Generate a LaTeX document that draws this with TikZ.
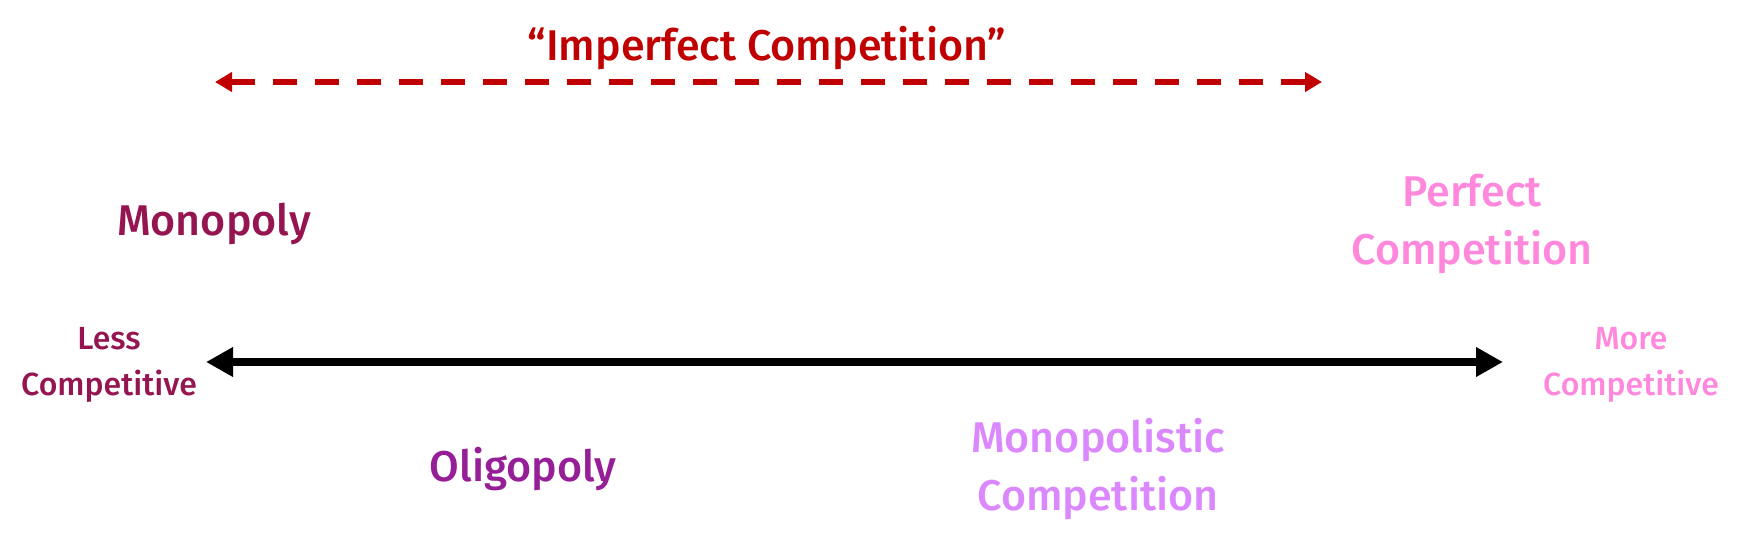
\documentclass[tikz,border=0pt]{standalone}
\usepackage{fontspec}
\setmainfont{Fira Sans}[UprightFont=* Medium]
\usetikzlibrary{arrows.meta}
\definecolor{cmono}{HTML}{951550}
\definecolor{coli}{HTML}{961E96}
\definecolor{cmpc}{HTML}{DB88FF}
\definecolor{cperf}{HTML}{FF88DD}
\definecolor{cred}{HTML}{C00000}
\tikzset{
  big/.style={font=\fontsize{43}{58}\selectfont, align=center, inner sep=0pt},
  small/.style={font=\fontsize{32}{46}\selectfont, align=center, inner sep=0pt},
}
\begin{document}
\begin{tikzpicture}[x=1pt,y=-1pt]
\useasboundingbox (0,0) rectangle (1742,552);
\node[big, text=cred] (imp) at (767,48) {“Imperfect Competition”};
\coordinate (il) at (215,82);
\coordinate (ir) at (1322,82);
\draw[cred, line width=6pt, dash pattern=on 24pt off 18pt, {Triangle[length=17pt,width=19pt]}-{Triangle[length=17pt,width=19pt]}] (il) -- (ir);
\coordinate (al) at (206,362);
\coordinate (ar) at (1503,362);
\draw[black, line width=8pt, {Triangle[length=27pt,width=28pt]}-{Triangle[length=27pt,width=28pt]}] (al) -- (ar);
\node[small, text=cmono] (less) at (109,365) {Less\\Competitive};
\node[small, text=cperf] (more) at (1631,365) {More\\Competitive};
\node[big, text=cmono] (mono) at (214,224) {Monopoly};
\node[big, text=cperf] (perf) at (1472,224) {Perfect\\Competition};
\node[big, text=coli] (oli) at (523,469) {Oligopoly};
\node[big, text=cmpc] (mpc) at (1098,469) {Monopolistic\\Competition};
\end{tikzpicture}
\end{document}
